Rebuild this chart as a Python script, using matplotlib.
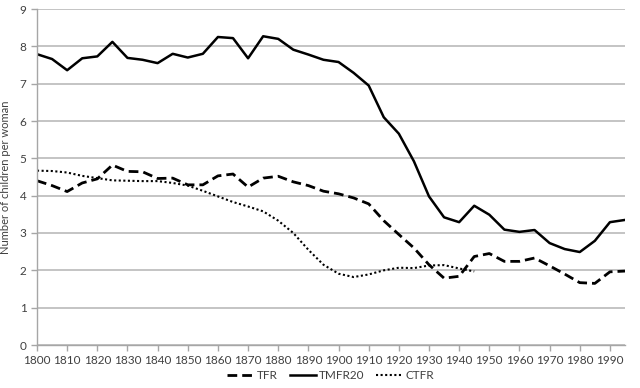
import numpy as np
import matplotlib
matplotlib.use("Agg")
import matplotlib.pyplot as plt

plt.rcParams['font.family'] = ['Lato', 'DejaVu Sans']

years = list(range(1800, 2000, 5))
tmfr20 = [7.79, 7.66, 7.36, 7.68, 7.73, 8.12, 7.69, 7.64, 7.55, 7.80,
          7.70, 7.80, 8.25, 8.22, 7.68, 8.27, 8.20, 7.91, 7.78, 7.64,
          7.58, 7.29, 6.95, 6.10, 5.66, 4.92, 3.98, 3.42, 3.29, 3.73,
          3.49, 3.09, 3.03, 3.08, 2.73, 2.57, 2.49, 2.79, 3.29, 3.35]
tfr = [4.40, 4.27, 4.11, 4.34, 4.45, 4.82, 4.65, 4.64, 4.46, 4.47,
       4.29, 4.29, 4.53, 4.58, 4.23, 4.47, 4.52, 4.37, 4.27, 4.12,
       4.05, 3.94, 3.78, 3.33, 2.96, 2.60, 2.15, 1.79, 1.84, 2.37,
       2.45, 2.24, 2.24, 2.33, 2.12, 1.90, 1.67, 1.65, 1.96, 1.98]
ctfr_years = list(range(1800, 1950, 5))
ctfr = [4.67, 4.66, 4.62, 4.53, 4.47, 4.41, 4.40, 4.39, 4.39, 4.34,
        4.27, 4.13, 3.98, 3.83, 3.71, 3.58, 3.33, 3.00, 2.55, 2.15,
        1.91, 1.82, 1.89, 2.00, 2.07, 2.06, 2.13, 2.14, 2.05, 1.97]

fig = plt.figure(figsize=(6.4, 3.88), dpi=100)
ax = fig.add_axes([37/640, 1-345/388, (625-37)/640, (345-9)/388])

ax.plot(years, tfr, color='black', lw=2.0, dashes=(3.5, 1.8), label='TFR')
ax.plot(years, tmfr20, color='black', lw=1.8, label='TMFR20')
ax.plot(ctfr_years, ctfr, color='black', lw=1.5, dashes=(1, 1.2), label='CTFR')

ax.set_xlim(1800, 1995)
ax.set_ylim(0, 9)
ax.set_xticks(range(1800, 2000, 10))
ax.set_yticks(range(0, 10))
ax.yaxis.grid(True, color='#bfbfbf', lw=1.3)
ax.set_axisbelow(True)
for s in ['top', 'right']:
    ax.spines[s].set_visible(False)
for s in ['left', 'bottom']:
    ax.spines[s].set_color('#a6a6a6')
    ax.spines[s].set_linewidth(1.0)
ax.tick_params(axis='both', colors='#a6a6a6', labelcolor='#404040', labelsize=8.5, length=4, width=1)
ax.set_ylabel('Number of children per woman', fontsize=8, color='#404040', labelpad=6)

ax.legend(loc='upper center', bbox_to_anchor=(0.5, -0.05), ncol=3, frameon=False,
          fontsize=8.5, handlelength=2.2, columnspacing=1.0, handletextpad=0.3,
          borderpad=0.2, labelcolor='#404040')

fig.savefig('out.png', dpi=100)
